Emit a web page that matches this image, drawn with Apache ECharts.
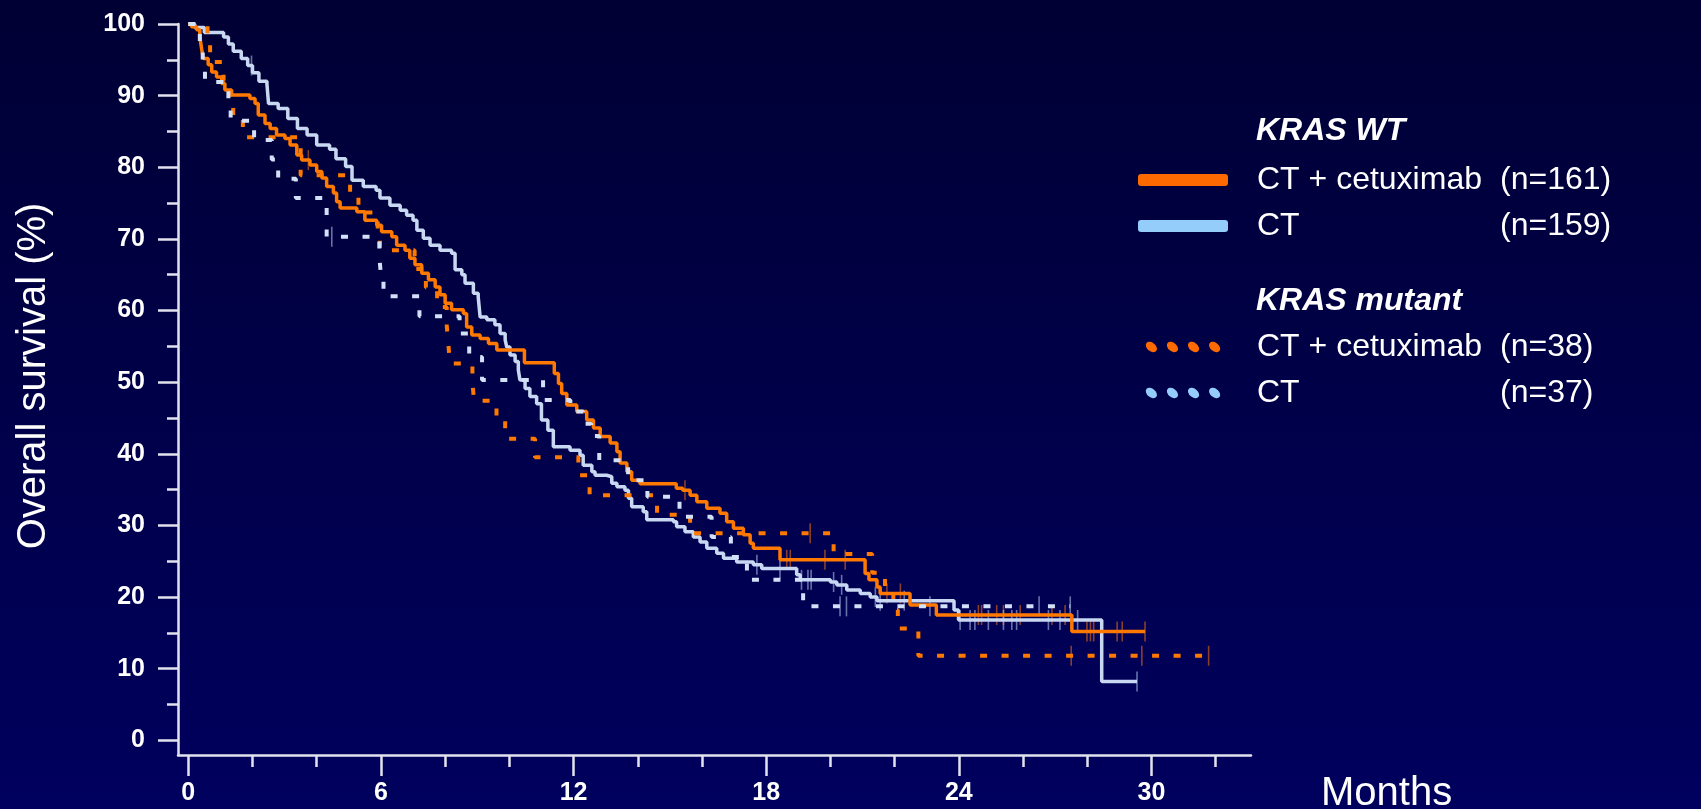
<!DOCTYPE html>
<html>
<head>
<meta charset="utf-8">
<script src="https://cdn.jsdelivr.net/npm/echarts@6/dist/echarts.min.js"></script>
<style>
html,body{margin:0;padding:0;background:#000040;}
#chart{width:1701px;height:809px;}
</style>
</head>
<body>
<div id="chart"></div>
<script>
// ---------- DATA ----------
// Kaplan-Meier steps: [month, survival % after the step]
const wtCetux = [[0,100],[0.1,99.6],[0.26,99.2],[0.36,98.2],[0.42,96.4],[0.47,95.2],[0.62,94.3],[0.73,93.3],[0.88,92.6],[1.04,91.7],[1.14,90.8],[1.35,90.1],[1.92,89.6],[2.08,88.9],[2.18,87.3],[2.39,86.1],[2.55,85.4],[2.75,84.5],[3.01,84.0],[3.17,83.1],[3.38,81.7],[3.53,81.0],[3.79,80.3],[4.0,79.4],[4.16,78.5],[4.31,77.3],[4.52,76.4],[4.62,75.2],[4.73,74.3],[5.25,73.8],[5.5,72.6],[5.87,71.9],[6.02,71.0],[6.34,70.3],[6.49,69.1],[6.75,68.4],[6.9,67.3],[7.06,66.4],[7.27,65.2],[7.48,64.3],[7.69,63.3],[7.84,62.2],[8.0,61.0],[8.2,60.1],[8.57,59.6],[8.67,57.7],[8.83,56.6],[9.09,56.1],[9.35,55.4],[9.61,54.5],[10.47,52.7],[11.4,51.2],[11.53,49.8],[11.63,48.4],[11.79,46.8],[12.1,45.9],[12.41,44.7],[12.62,43.6],[12.83,42.4],[13.14,41.5],[13.35,40.3],[13.45,38.7],[13.66,37.5],[13.81,36.3],[14.07,35.8],[15.2,35.2],[15.4,34.9],[15.63,34.2],[15.84,33.3],[16.15,32.4],[16.56,31.7],[16.77,30.5],[16.98,29.6],[17.29,28.7],[17.5,27.5],[17.6,26.8],[18.43,25.2],[21.08,23.3],[21.2,22.4],[21.45,21.4],[21.55,20.5],[22.48,18.9],[23.3,17.5],[27.52,15.2],[29.8,15.2]];
const wtCt = [[0,100],[0.2,99.5],[0.5,98.8],[1.1,98.2],[1.25,97.2],[1.4,96.2],[1.65,95.2],[1.85,94.2],[2.0,93.2],[2.2,92.0],[2.45,91.6],[2.5,88.9],[2.8,88.2],[3.1,86.8],[3.4,85.4],[3.7,84.5],[4.0,83.1],[4.4,82.5],[4.6,81.2],[4.9,80.1],[5.1,78.2],[5.45,77.3],[5.85,76.8],[5.97,75.7],[6.28,74.7],[6.6,74.0],[6.8,73.3],[7.0,72.6],[7.12,71.2],[7.32,70.1],[7.53,69.1],[7.84,68.4],[8.2,68.0],[8.31,65.7],[8.52,65.0],[8.62,63.8],[8.88,62.4],[9.03,61.9],[9.09,59.1],[9.3,58.7],[9.55,58.0],[9.71,56.8],[9.87,55.9],[9.92,54.9],[10.02,53.8],[10.18,52.9],[10.28,51.7],[10.33,50.3],[10.49,49.1],[10.64,48.0],[10.85,47.0],[11.0,44.7],[11.2,43.3],[11.37,41.0],[11.89,40.5],[12.2,39.8],[12.3,38.4],[12.57,37.5],[12.67,37.0],[13.03,36.8],[13.19,35.9],[13.35,35.4],[13.6,34.9],[13.71,33.8],[13.81,32.6],[14.17,31.9],[14.28,30.8],[15.11,30.5],[15.21,29.8],[15.47,29.1],[15.73,28.4],[15.94,27.7],[16.15,26.8],[16.46,26.1],[16.67,25.4],[17.08,24.9],[17.6,24.5],[17.86,24.0],[18.95,23.1],[19.06,22.4],[20.0,22.1],[20.2,21.7],[20.51,21.0],[20.93,20.5],[21.24,20.0],[21.45,19.5],[23.85,18.2],[23.99,16.8],[28.45,8.2],[29.55,8.2]];
const mutCetux = [[0,100],[0.6,97.4],[0.68,94.7],[1.1,92.1],[1.3,89.5],[1.4,86.8],[1.7,84.2],[3.5,78.9],[5.04,76.3],[5.3,73.7],[5.9,71.1],[5.97,68.4],[7.05,65.8],[7.4,63.2],[7.75,60.5],[8.05,57.9],[8.1,55.3],[8.15,52.6],[8.85,50.0],[8.9,47.4],[9.6,44.7],[9.87,42.1],[10.8,39.5],[12.15,37.0],[12.5,34.2],[14.6,31.5],[15.63,28.9],[20.1,26.0],[21.3,23.4],[21.7,20.8],[21.96,18.2],[22.1,15.6],[22.74,11.8],[31.78,11.8]];
const mutCt = [[0,100],[0.36,97.3],[0.45,94.6],[0.52,91.9],[1.25,89.2],[1.32,86.5],[2.05,83.8],[2.6,81.1],[2.8,78.4],[3.35,75.7],[4.31,70.3],[5.95,67.6],[6.0,64.9],[6.08,62.0],[7.2,59.2],[8.45,56.8],[8.75,53.5],[9.15,50.3],[11.05,47.5],[11.9,45.9],[12.3,44.2],[12.55,42.5],[12.8,39.1],[13.7,36.3],[14.3,34.0],[15.3,31.2],[16.3,28.4],[16.9,25.6],[17.4,22.4],[19.15,18.7],[27.47,18.7]];

// censoring times (months)
const wtCetuxCens = [3.74,15.47,18.64,18.75,19.83,20.46,21.76,22.18,24.61,24.71,25.18,25.39,25.91,26.9,27.31,27.99,28.1,28.2,28.93,29.09,29.8];
const wtCtCens = [1.97,17.71,18.43,19.1,19.3,19.4,20.1,20.35,21.4,21.55,22.3,24.04,24.35,24.5,24.92,25.39,25.65,25.8,26.79,27.15,27.7,29.55];
const mutCetuxCens = [19.37,27.5,29.7,31.78];
const mutCtCens = [4.47,20.3,20.5,23.1,26.5,27.47];

// tick labels
const xMajor = [0,6,12,18,24,30];
const xMinor = [2,4,8,10,14,16,20,22,26,28,32];
const yMajor = [0,10,20,30,40,50,60,70,80,90,100];
const yMinor = [5,15,25,35,45,55,65,75,85,95];

// legend texts
const seriesNames = ['WT CT + cetuximab','WT CT','MUT CT + cetuximab','MUT CT'];
const legendTexts = {
  'WT CT + cetuximab': ['CT + cetuximab','(n=161)'],
  'WT CT': ['CT','(n=159)'],
  'MUT CT + cetuximab': ['CT + cetuximab','(n=38)'],
  'MUT CT': ['CT','(n=37)']
};
const groupTitles = ['KRAS WT','KRAS mutant'];

// ---------- CHART ----------
const FONT = '"Liberation Sans", Arial, sans-serif';
const ORANGE = '#ff7800';
const LIGHT = '#c8d8f2';
const AXIS = '#e2e2ee';
const X_MIN = -0.32, X_MAX = 33.1, Y_MIN = -2.05, Y_MAX = 100;

function levelAt(curve, t){
  let v = curve[0][1];
  for (const p of curve){ if (p[0] <= t) v = p[1]; else break; }
  return v;
}

// legend icon for dotted series: four tilted pills
function dotsIcon(){
  const cy = 5.3, dx = 4.98, dy = 4.18;
  let d = '';
  [5.7, 27.2, 48.7, 70.2].forEach(cx => {
    d += `M${(cx-dx).toFixed(2)},${(cy-dy).toFixed(2)} A6.5,4.3,40,0,1,${(cx+dx).toFixed(2)},${(cy+dy).toFixed(2)} A6.5,4.3,40,0,1,${(cx-dx).toFixed(2)},${(cy-dy).toFixed(2)} Z `;
  });
  return 'path://' + d;
}

function legendFormatter(){
  return name => `{s| }{a|${legendTexts[name][0]}}{b|${legendTexts[name][1]}}`;
}
function legendRich(spacer){
  const base = {color:'#ffffff', fontSize:32, fontFamily:FONT};
  return {
    s: Object.assign({}, base, {width: spacer}),
    a: Object.assign({}, base, {width: 243}),
    b: Object.assign({}, base)
  };
}

const grid = {left:178, top:24, width:1073, height:731, containLabel:false, outerBoundsMode:'none'};

const lineSeries = (name, data, color, dashed, z) => ({
  name, type:'line', step:'end', data, xAxisIndex:0, yAxisIndex:0,
  showSymbol:false, symbol:'none', z,
  lineStyle:{color, width: dashed ? 4 : 3.5, type: dashed ? [7,14.5] : 'solid', cap:'butt'},
  itemStyle:{color},
  emphasis:{disabled:true}
});
const censSeries = (times, curve, color) => ({
  type:'scatter', xAxisIndex:0, yAxisIndex:0, z:1,
  symbol:'rect', symbolSize:[1.6, 20],
  data: times.map(t => [t, levelAt(curve, t)]),
  itemStyle:{color},
  emphasis:{disabled:true}, silent:true
});

const titleStyle = {color:'#ffffff', fontSize:32, fontWeight:'bold', fontStyle:'italic', fontFamily:FONT};

const option = {
  animation:false,
  backgroundColor:{type:'linear', x:0, y:0, x2:0, y2:1,
    colorStops:[{offset:0, color:'#000034'},{offset:1, color:'#00005e'}]},
  title:[
    {text:groupTitles[0], left:1256, top:115, padding:0, textStyle:titleStyle},
    {text:groupTitles[1], left:1256, top:285, padding:0, textStyle:titleStyle}
  ],
  legend:[
    {orient:'vertical', left:1138, top:164, padding:0, itemGap:14,
     itemWidth:90, itemHeight:12, selectedMode:false,
     data:[{name:seriesNames[0], icon:'roundRect', itemStyle:{color:'#ff6a00'}},
           {name:seriesNames[1], icon:'roundRect', itemStyle:{color:'#94ccfa'}}],
     formatter: legendFormatter(), textStyle:{rich: legendRich(24)}},
    {orient:'vertical', left:1145, top:331, padding:0, itemGap:14,
     itemWidth:76, itemHeight:11, selectedMode:false,
     data:[{name:seriesNames[2], icon:dotsIcon(), itemStyle:{color:'#ff6a00'}},
           {name:seriesNames[3], icon:dotsIcon(), itemStyle:{color:'#94ccfa'}}],
     formatter: legendFormatter(), textStyle:{rich: legendRich(31)}}
  ],
  grid:[Object.assign({}, grid), Object.assign({}, grid)],
  xAxis:[
    {type:'value', gridIndex:0, min:X_MIN, max:X_MAX,
     axisLine:{show:true, onZero:false, lineStyle:{color:AXIS, width:2.5}},
     axisTick:{show:true, customValues:xMajor, length:21, lineStyle:{color:AXIS, width:2.5}},
     axisLabel:{show:true, customValues:xMajor, margin:26, color:'#ffffff', fontSize:25, fontWeight:'bold', fontFamily:FONT},
     splitLine:{show:false},
     name:'Months', nameLocation:'end', nameGap:70,
     nameTextStyle:{color:'#ffffff', fontSize:40, fontFamily:FONT, align:'left', verticalAlign:'top', lineHeight:78}},
    {type:'value', gridIndex:1, min:X_MIN, max:X_MAX,
     axisLine:{show:false, onZero:false},
     axisTick:{show:true, customValues:xMinor, length:12, lineStyle:{color:AXIS, width:2.5}},
     axisLabel:{show:false}, splitLine:{show:false}}
  ],
  yAxis:[
    {type:'value', gridIndex:0, min:Y_MIN, max:Y_MAX,
     axisLine:{show:true, onZero:false, lineStyle:{color:AXIS, width:2.5}},
     axisTick:{show:true, customValues:yMajor, length:20, lineStyle:{color:AXIS, width:2.5}},
     axisLabel:{show:true, customValues:yMajor, margin:33, color:'#ffffff', fontSize:25, fontWeight:'bold', fontFamily:FONT},
     splitLine:{show:false},
     name:'Overall survival (%)', nameLocation:'middle', nameGap:124, nameRotate:90,
     nameTextStyle:{color:'#ffffff', fontSize:40, fontFamily:FONT, padding:[0,0,0,27]}},
    {type:'value', gridIndex:1, min:Y_MIN, max:Y_MAX,
     axisLine:{show:false, onZero:false},
     axisTick:{show:true, customValues:yMinor, length:11, lineStyle:{color:AXIS, width:2.5}},
     axisLabel:{show:false}, splitLine:{show:false}}
  ],
  series:[
    censSeries(wtCetuxCens, wtCetux, 'rgba(230,105,20,0.75)'),
    censSeries(wtCtCens, wtCt, 'rgba(170,190,228,0.75)'),
    censSeries(mutCetuxCens, mutCetux, 'rgba(230,105,20,0.75)'),
    censSeries(mutCtCens, mutCt, 'rgba(170,190,228,0.75)'),
    lineSeries(seriesNames[1], wtCt, LIGHT, false, 3),
    lineSeries(seriesNames[0], wtCetux, ORANGE, false, 4),
    lineSeries(seriesNames[2], mutCetux, ORANGE, true, 5),
    lineSeries(seriesNames[3], mutCt, '#d2e0f8', true, 6)
  ]
};

const chart = echarts.init(document.getElementById('chart'), null, {renderer:'canvas'});
chart.setOption(option);
</script>
</body>
</html>
